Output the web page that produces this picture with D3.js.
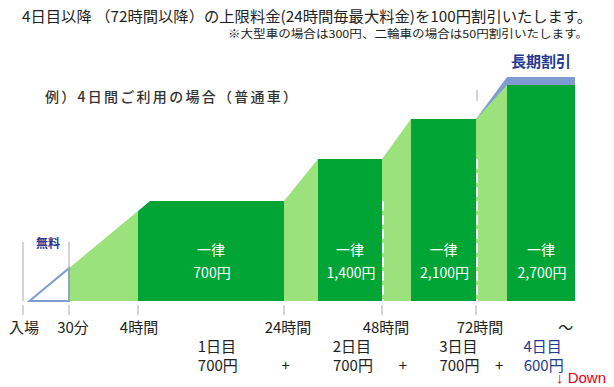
<!DOCTYPE html>
<html>
<head>
<meta charset="utf-8">
<script src="https://cdn.jsdelivr.net/npm/d3@7"></script>
<style>
  body { margin: 0; background: #fff; }
  svg { display: block; font-family: "Noto Sans CJK JP", sans-serif; }
</style>
</head>
<body>
<svg id="chart" width="614" height="387"></svg>
<script>
// 経過時間（時間）と料金（円）
const tickHours = [0, 0.5, 4, 24, 48, 72];
const tickLabels = ["入場", "30分", "4時間", "24時間", "48時間", "72時間"];

const blockStart = [4, 28, 52, 76];
const blockEnd = [24, 48, 72, 96];
const blockFee = [700, 1400, 2100, 2700];
const blockLabels = ["700円", "1,400円", "2,100円", "2,700円"];

const rampStart = [[0.5, 230], [24, 700], [48, 1400], [72, 2100]];
const rampEnd = [[4, 630], [28, 1400], [52, 2100], [76, 2700]];

const freeStart = [0.07, 0];
const discountFee = 2800;
const dashedHours = [48, 72];

const dayHours = [14.8, 38.6, 66.6, 86.5];
const dayLabels = ["1日目", "2日目", "3日目", "4日目"];
const dayFees = ["700円", "700円", "700円", "600円"];
const plusHours = [24.2, 50.9, 75];

const darkGreen = "#00a535";
const lightGreen = "#9be27c";
const blue = "#7f9bd1";
const navy = "#233a93";

const svg = d3.select("#chart");

// 模式図なので区間ごとの折れ線スケール
const x = d3.scaleLinear()
  .domain([0, 0.5, 4, 24, 28, 48, 52, 72, 76, 96])
  .range([23, 69, 138, 284, 318, 382, 411, 476, 507, 575]);
const y = d3.scaleLinear()
  .domain([0, 700, 1400, 2100, 2700, 2800])
  .range([301, 201, 159, 119, 85, 77]);

const line = d3.line().x(d => x(d[0])).y(d => y(d[1]));

// 見出し
svg.append("text")
  .attr("x", 22).attr("y", 15)
  .attr("dominant-baseline", "central")
  .attr("font-size", 15).attr("fill", "#222")
  .attr("textLength", 570).attr("lengthAdjust", "spacingAndGlyphs")
  .text("4日目以降 （72時間以降）の上限料金(24時間毎最大料金)を100円割引いたします。");
svg.append("text")
  .attr("x", 228).attr("y", 33)
  .attr("dominant-baseline", "central")
  .attr("font-size", 11).attr("fill", "#222")
  .attr("textLength", 360).attr("lengthAdjust", "spacingAndGlyphs")
  .text("※大型車の場合は300円、二輪車の場合は50円割引いたします。");

svg.append("text")
  .attr("x", 45).attr("y", 96)
  .attr("dominant-baseline", "central")
  .attr("font-size", 14).attr("font-weight", 500).attr("fill", "#333")
  .attr("textLength", 252).attr("lengthAdjust", "spacing")
  .text("例）4日間ご利用の場合（普通車）");

// 長期割引の帯
svg.append("path")
  .attr("fill", blue)
  .attr("d", line([rampStart[3], [rampEnd[3][0], discountFee], [blockEnd[3], discountFee], [blockEnd[3], 0], [rampStart[3][0], 0]]) + "Z");
svg.append("text")
  .attr("x", (x(blockStart[3]) + x(blockEnd[3])) / 2).attr("y", 60)
  .attr("text-anchor", "middle").attr("dominant-baseline", "central")
  .attr("font-size", 15).attr("font-weight", "bold").attr("fill", navy)
  .text("長期割引");

// 立ち上がり（淡い緑）
rampStart.forEach((s, i) => {
  const e = rampEnd[i];
  svg.append("path")
    .attr("fill", lightGreen)
    .attr("d", line([[s[0], 0], s, e, [e[0], 0]]) + "Z");
});

// 上限料金ブロック（濃い緑）
blockStart.forEach((h, i) => {
  const s = rampStart[i], e = rampEnd[i];
  const x0 = x(s[0]), y0 = y(s[1]), x1 = x(e[0]), y1 = y(e[1]);
  const top = y(blockFee[i]);
  const xTop = x1 + (top - y1) * (x1 - x0) / (y1 - y0);
  const pts = [[x(h), y(0)], [x1, y1], [xTop, top], [x(blockEnd[i]), top], [x(blockEnd[i]), y(0)]];
  svg.append("path")
    .attr("fill", darkGreen)
    .attr("d", d3.line()(pts) + "Z");
  const cx = (x(h) + x(blockEnd[i])) / 2;
  svg.append("text")
    .attr("x", cx).attr("y", 249)
    .attr("text-anchor", "middle").attr("dominant-baseline", "central")
    .attr("font-size", 14).attr("fill", "#fff")
    .text("一律");
  svg.append("text")
    .attr("x", cx + 1).attr("y", 272)
    .attr("text-anchor", "middle").attr("dominant-baseline", "central")
    .attr("font-size", 14).attr("fill", "#fff")
    .text(blockLabels[i]);
});

// 日付の区切り（白の破線）
dashedHours.forEach((h, i) => {
  svg.append("line")
    .attr("x1", x(h) + 1).attr("x2", x(h) + 1)
    .attr("y1", y(blockFee[i + 1] - 700)).attr("y2", y(0))
    .attr("stroke", "#fff").attr("stroke-width", 2)
    .attr("stroke-dasharray", "10,4");
});

// 無料時間
svg.append("path")
  .attr("fill", "none").attr("stroke", blue).attr("stroke-width", 2)
  .attr("d", line([freeStart, rampStart[0], [rampStart[0][0], 0]]) + "Z");
[0, 0.5].forEach(h => {
  svg.append("line")
    .attr("x1", x(h)).attr("x2", x(h))
    .attr("y1", 242).attr("y2", y(0))
    .attr("stroke", "#aaa").attr("stroke-width", 1);
});
svg.append("text")
  .attr("x", 48).attr("y", 242)
  .attr("text-anchor", "middle").attr("dominant-baseline", "central")
  .attr("font-size", 12).attr("font-weight", "bold").attr("fill", navy)
  .text("無料");
svg.append("line")
  .attr("x1", x(72) + 1).attr("x2", x(72) + 1)
  .attr("y1", 90).attr("y2", 101)
  .attr("stroke", "#aaa");

// 時間軸
tickHours.forEach((h, i) => {
  svg.append("line")
    .attr("x1", x(h)).attr("x2", x(h))
    .attr("y1", 305).attr("y2", 315)
    .attr("stroke", "#aaa");
  svg.append("text")
    .attr("x", x(h) + (i === 0 || i === 2 ? 1 : 4)).attr("y", 326)
    .attr("text-anchor", "middle").attr("dominant-baseline", "central")
    .attr("font-size", 15).attr("fill", "#222")
    .text(tickLabels[i]);
});
svg.append("text")
  .attr("x", x(93.3)).attr("y", 326)
  .attr("text-anchor", "middle").attr("dominant-baseline", "central")
  .attr("font-size", 15).attr("fill", "#222")
  .text("〜");

// 日ごとの内訳
dayHours.forEach((h, i) => {
  const c = i === 3 ? navy : "#222";
  svg.append("text")
    .attr("x", x(h)).attr("y", 345)
    .attr("text-anchor", "middle").attr("dominant-baseline", "central")
    .attr("font-size", 15).attr("fill", c)
    .text(dayLabels[i]);
  svg.append("text")
    .attr("x", x(h) + 1).attr("y", 364)
    .attr("text-anchor", "middle").attr("dominant-baseline", "central")
    .attr("font-size", 15).attr("fill", c)
    .text(dayFees[i]);
});
plusHours.forEach(h => {
  svg.append("text")
    .attr("x", x(h)).attr("y", 364)
    .attr("text-anchor", "middle").attr("dominant-baseline", "central")
    .attr("font-size", 15).attr("fill", "#222")
    .text("+");
});
svg.append("text")
  .attr("x", 556).attr("y", 377)
  .attr("dominant-baseline", "central")
  .attr("font-family", "Liberation Sans, Arial, sans-serif")
  .attr("font-size", 15).attr("fill", "#e60012")
  .text("↓ Down");
</script>
</body>
</html>
